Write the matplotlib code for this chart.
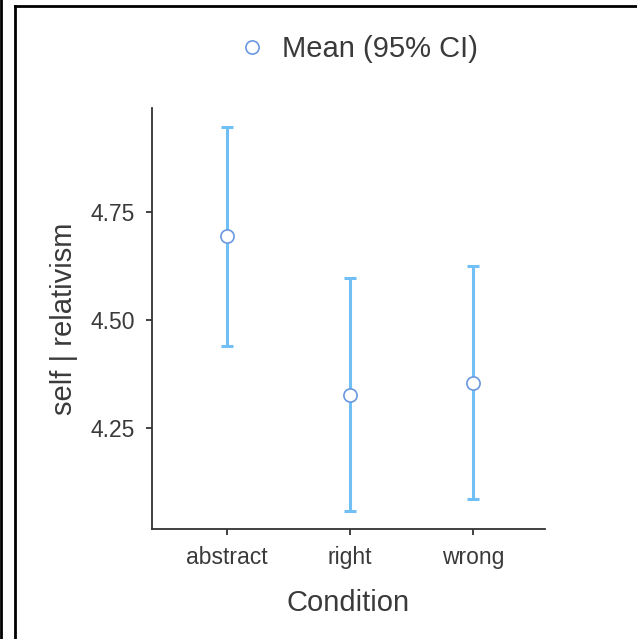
import matplotlib.pyplot as plt
from matplotlib.lines import Line2D

# data
conditions = ['abstract', 'right', 'wrong']
means = [4.694, 4.326, 4.354]
ci_low = [4.440, 4.058, 4.086]
ci_high = [4.947, 4.597, 4.625]
yticks = [4.25, 4.50, 4.75]

plt.rcParams['font.family'] = ['Liberation Sans', 'DejaVu Sans']

fig = plt.figure(figsize=(6.37, 6.39), dpi=100)
ax = fig.add_axes([152 / 637, 1 - 529 / 639, (545 - 152) / 637, (529 - 108) / 639])

x = list(range(len(conditions)))
err_lo = [m - lo for m, lo in zip(means, ci_low)]
err_hi = [hi - m for m, hi in zip(means, ci_high)]
ax.errorbar(x, means, yerr=[err_lo, err_hi], fmt='none', ecolor='#70c0f5',
            elinewidth=2.2, capsize=4.6, capthick=2.2, zorder=2)
ax.plot(x, means, 'o', markersize=9.5, markerfacecolor='white',
        markeredgecolor='#6a98e0', markeredgewidth=1.2, zorder=3)

ax.set_xlim(-0.61, 2.585)
ax.set_ylim(4.016, 4.991)
ax.set_xticks(x)
ax.set_xticklabels(conditions)
ax.set_yticks(yticks)
ax.set_yticklabels(['%.2f' % v for v in yticks])

for side in ['top', 'right']:
    ax.spines[side].set_visible(False)
for side in ['left', 'bottom']:
    ax.spines[side].set_color('#333333')
    ax.spines[side].set_linewidth(1.3)
ax.tick_params(colors='#333333', length=4.5, width=1.3, labelsize=16.5)
ax.tick_params(axis='x', pad=8)
ax.tick_params(axis='y', pad=8)
for lbl in ax.get_xticklabels() + ax.get_yticklabels():
    lbl.set_color('#3a3a3a')

ax.set_xlabel('Condition', fontsize=21, color='#3a3a3a', labelpad=14)
ax.set_ylabel('self | relativism', fontsize=21, color='#3a3a3a', labelpad=9)

handle = Line2D([], [], marker='o', linestyle='none', markersize=9.5,
                markerfacecolor='white', markeredgecolor='#6a98e0', markeredgewidth=1.2)
fig.legend([handle], ['Mean (95% CI)'], loc='center', bbox_to_anchor=(0.556, 1 - 49 / 639),
           frameon=False, fontsize=21, handletextpad=0.3, handlelength=1.5,
           labelcolor='#3a3a3a')

# outer frame lines
W, H = 637, 639
fig.add_artist(Line2D([1.5 / W, 1.5 / W], [0, 1], color='black', linewidth=2))
fig.add_artist(Line2D([14.5 / W, 14.5 / W], [0, 1 - 6 / H], color='black', linewidth=2))
fig.add_artist(Line2D([14.5 / W, 1], [1 - 6 / H, 1 - 6 / H], color='black', linewidth=2))

fig.savefig('out.png', dpi=100)
